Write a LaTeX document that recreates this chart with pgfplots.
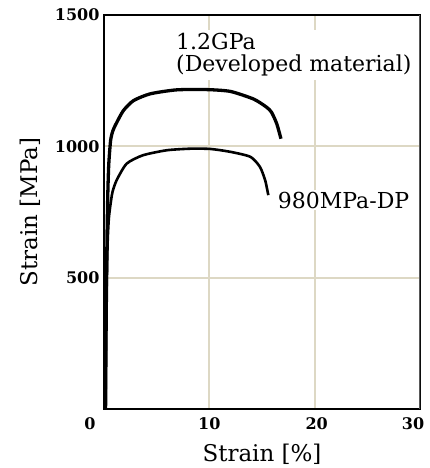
\documentclass[border=0pt]{standalone}
\usepackage{fontspec}
\setmainfont{DejaVu Serif}
\usepackage{pgfplots}
\pgfplotsset{compat=1.18}
\definecolor{gridc}{RGB}{221,216,196}
\newcommand{\sh}[2]{\makebox[0pt]{\hspace*{#1}#2}}

\begin{document}
\begin{tikzpicture}
\path[use as bounding box] (-104pt,-59pt) rectangle (326pt,409pt);
\begin{axis}[
  at={(0,0)}, anchor=south west,
  width=316pt, height=394pt, scale only axis,
  xmin=0, xmax=30, ymin=0, ymax=1500,
  xtick={0,10,20,30}, ytick={500,1000,1500},
  xticklabels={\sh{-28pt}{0},10,\sh{4pt}{20},\sh{-14pt}{30}},
  yticklabels={500,1000,1500},
  major tick length=0pt,
  grid=major, major grid style={gridc, line width=2pt},
  axis line style={black, line width=1.6pt},
  tick label style={font=\fontsize{16}{18}\selectfont\bfseries},
  xticklabel style={yshift=-5pt},
  yticklabel style={xshift=-1pt},
  xlabel={Strain [\%]}, ylabel={Strain [MPa]},
  label style={font=\fontsize{23}{26}\selectfont},
  xlabel style={at={(axis description cs:0.5,-0.132)}, anchor=base},
  ylabel style={at={(axis description cs:-0.209,0.5)}, anchor=base},
]
% 1.2GPa developed material
\addplot[black, line width=3.3pt, smooth, tension=0.4] coordinates {
  (0.15,0) (0.2,300) (0.27,600) (0.35,800) (0.45,930) (0.63,1023)
  (0.85,1060) (1.2,1090) (1.84,1136) (2.8,1174) (4.4,1200) (6.9,1215)
  (9.75,1216) (12.0,1209) (14.2,1180) (15.4,1150) (15.9,1130)
  (16.4,1086) (16.8,1029)};
% 980MPa-DP
\addplot[black, line width=2.6pt, smooth, tension=0.4] coordinates {
  (0.15,0) (0.2,300) (0.27,500) (0.35,640) (0.45,720) (0.57,765)
  (0.8,825) (1.2,871) (2.15,934) (3.7,966) (5.95,985) (8.2,991)
  (10.1,990) (12.0,979) (13.9,960) (14.8,922) (15.3,871) (15.6,814)};
\draw[black!65, line width=1.8pt] (rel axis cs:1,0) -- (rel axis cs:1,1);
\node[anchor=north west, align=left, fill=white, inner sep=3pt,
      font=\fontsize{22}{22.5}\selectfont]
  at (axis cs:6.55,1443) {1.2GPa\\(Developed material)};
\node[anchor=base west, fill=white, inner sep=2pt,
      font=\fontsize{22}{22.5}\selectfont]
  at (axis cs:16.3,765) {980MPa-DP};
\end{axis}
\end{tikzpicture}
\end{document}
